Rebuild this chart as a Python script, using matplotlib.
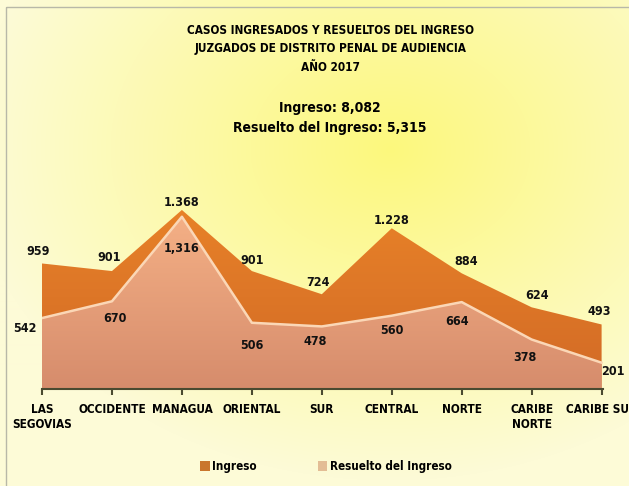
import numpy as np
import matplotlib.pyplot as plt
from matplotlib.patches import Patch, Rectangle

# data
regiones = ['LAS\nSEGOVIAS', 'OCCIDENTE', 'MANAGUA', 'ORIENTAL', 'SUR',
            'CENTRAL', 'NORTE', 'CARIBE\nNORTE', 'CARIBE SUR']
ingreso = [959, 901, 1368, 901, 724, 1228, 884, 624, 493]
resuelto = [542, 670, 1316, 506, 478, 560, 664, 378, 201]
ingreso_txt = ['959', '901', '1.368', '901', '724', '1.228', '884', '624', '493']
resuelto_txt = ['542', '670', '1,316', '506', '478', '560', '664', '378', '201']

# label offsets (points)
off_ing = [(-3, 4), (-2, 5), (0, 0.5), (0, 3), (-3, 4), (0, 1), (3, 4), (4, 4), (-2, 5)]
off_res = [(-12, -2.5), (2, -8), (0, -18), (0, -12), (-5, -6), (0, -6), (-3, -9), (-5, -8), (8, -2)]

plt.rcParams['font.family'] = ['DejaVu Sans']
plt.rcParams['font.stretch'] = 'condensed'
plt.rcParams['font.weight'] = 'bold'

fig = plt.figure(figsize=(6.29, 4.86), dpi=100)

# background gradient
bg = fig.add_axes([0, 0, 1, 1])
yy, xx = np.mgrid[0:486, 0:629]
d = np.sqrt(((xx - 390) / 420.0) ** 2 + ((yy - 150) / 330.0) ** 2)
d = np.clip(d, 0, 1)
c1 = np.array([252, 248, 125]) / 255.0
c2 = np.array([253, 251, 215]) / 255.0
img = c1[None, None, :] * (1 - d[..., None]) + c2[None, None, :] * d[..., None]
bg.imshow(img, extent=[0, 629, 486, 0], aspect='auto')
bg.set_xlim(0, 629)
bg.set_ylim(486, 0)
bg.axis('off')
bg.add_patch(Rectangle((6, 7), 640, 500, fill=False, ec='#b8b8a8', lw=1))

ax = fig.add_axes([42 / 629, 97 / 486, 561 / 629, 248.7 / 486])
ax.patch.set_alpha(0)
x = np.arange(len(regiones))


def gradient_fill(ax, xs, ys, top, bottom):
    poly = ax.fill_between(xs, 0, ys, color='none', lw=0)
    grad = np.linspace(0, 1, 256)[:, None, None]
    t = np.array(top)[None, None, :] / 255.0
    b = np.array(bottom)[None, None, :] / 255.0
    im = ax.imshow(t * (1 - grad) + b * grad, extent=[0, 8, 0, 1400],
                   aspect='auto', zorder=poly.get_zorder())
    path = poly.get_paths()[0]
    im.set_clip_path(path, transform=ax.transData)
    return poly


gradient_fill(ax, x, ingreso, (232, 130, 40), (210, 106, 38))
gradient_fill(ax, x, resuelto, (246, 178, 135), (214, 140, 108))
ax.plot(x, resuelto, color='#fbd7b6', lw=1.8, zorder=3)

for i in range(len(x)):
    ax.annotate(ingreso_txt[i], (x[i], ingreso[i]), xytext=off_ing[i],
                textcoords='offset points', ha='center', va='bottom',
                fontsize=9, fontweight='bold', color='#111111')
    ax.annotate(resuelto_txt[i], (x[i], resuelto[i]), xytext=off_res[i],
                textcoords='offset points', ha='center', va='top',
                fontsize=9, fontweight='bold', color='#111111')

ax.set_xlim(0, 8.02)
ax.set_ylim(0, 1900)
ax.set_xticks(x)
ax.set_xticklabels(regiones, fontsize=8.5, fontweight='bold')
ax.set_yticks([])
for s in ['top', 'right', 'left']:
    ax.spines[s].set_visible(False)
ax.spines['bottom'].set_color('#4a4a30')
ax.spines['bottom'].set_linewidth(1.5)
ax.tick_params(axis='x', length=4, width=1.5, color='#4a4a30', pad=6)

fig.text(0.525, 0.951, 'CASOS INGRESADOS Y RESUELTOS DEL INGRESO\n'
         'JUZGADOS DE DISTRITO PENAL DE AUDIENCIA\nAÑO 2017',
         ha='center', va='top', fontsize=8.5, fontweight='bold', linespacing=1.55)
fig.text(0.525, 0.793, 'Ingreso: 8,082\nResuelto del Ingreso: 5,315',
         ha='center', va='top', fontsize=10, fontweight='bold', linespacing=1.6)

handles = [Patch(facecolor='#c9762c', edgecolor='none', label='Ingreso'),
           Patch(facecolor='#e3bd95', edgecolor='none', label='Resuelto del Ingreso')]
fig.legend(handles=handles, loc='center', bbox_to_anchor=(0.518, 0.04), ncol=2,
           frameon=False, fontsize=8.4, handlelength=0.85, handleheight=0.85,
           handletextpad=0.2, columnspacing=5.2)

fig.savefig('out.png', dpi=100)
